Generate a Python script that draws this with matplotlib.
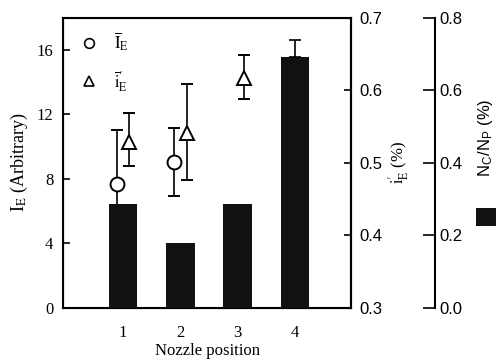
import matplotlib
matplotlib.use("Agg")
import matplotlib.pyplot as plt
from matplotlib.lines import Line2D

plt.rcParams["font.family"] = ["Liberation Serif", "DejaVu Serif"]
plt.rcParams["mathtext.fontset"] = "stix"

# nozzle positions
positions = [1, 2, 3, 4]

# mean I_E (arbitrary), left axis -- only positions 1 and 2 visible
ie_pos = [1, 2]
ie_mean = [7.7, 9.05]
ie_err = [3.3, 2.1]

# mean i'_E (%), right axis
ie2_pos = [1, 2, 3]
ie2_mean = [0.529, 0.541, 0.617]
ie2_err_low = [0.033, 0.065, 0.029]
ie2_err_high = [0.040, 0.068, 0.032]

# N_C/N_P (%), bars on the outer axis
nc_np = [0.287, 0.179, 0.287, 0.691]
nc_np_err = [0.0, 0.0, 0.0, 0.047]

xticks = [1, 2, 3, 4]

fig = plt.figure(figsize=(4.96, 3.6), dpi=100)
ax = fig.add_axes([63 / 496, 52 / 360, 288 / 496, 290.5 / 360])
ax2 = ax.twinx()
ax3 = ax.twinx()

lw = 1.5
off = 0.11

# circles, I_E
ax.errorbar([p - off for p in ie_pos], ie_mean, yerr=ie_err, fmt="o",
            ms=10, mfc="white", mec="black", mew=1.4, color="black",
            elinewidth=1.2, capsize=4, capthick=1.2)

# triangles, i'_E
ax2.errorbar([p + off for p in ie2_pos], ie2_mean,
             yerr=[ie2_err_low, ie2_err_high], fmt="^",
             ms=10, mfc="white", mec="black", mew=1.4, color="black",
             elinewidth=1.2, capsize=4, capthick=1.2)

# bars, N_C/N_P
bars = ax3.bar(positions, nc_np, width=0.5, color="#111111", zorder=1)
ax3.errorbar(positions[3:], nc_np[3:], yerr=[[0], nc_np_err[3:]], fmt="none",
             ecolor="black", elinewidth=1.2, capsize=4, capthick=1.2)

ax.set_xlim(-0.05, 4.98)
ax.set_ylim(0, 18)
ax2.set_ylim(0.3, 0.7)
ax3.set_ylim(0, 0.8)

ax.set_xticks(xticks)
ax.set_yticks([0, 4, 8, 12, 16])
ax2.set_yticks([0.3, 0.4, 0.5, 0.6, 0.7])
ax3.set_yticks([0.0, 0.2, 0.4, 0.6, 0.8])

for s in ax.spines.values():
    s.set_linewidth(lw)
ax2.spines["right"].set_linewidth(lw)
for name in ["top", "bottom", "left"]:
    ax3.spines[name].set_visible(False)
ax3.spines["right"].set_position(("axes", 372 / 288))
ax3.spines["right"].set_linewidth(lw)

ax.tick_params(axis="y", direction="in", length=5, width=1.2, pad=7, labelsize=12)
ax.tick_params(axis="x", direction="in", length=0, pad=12, labelsize=12)
ax2.tick_params(axis="y", direction="in", length=5, width=1.2, pad=6, labelsize=12)
ax3.tick_params(axis="y", direction="in", length=9, width=1.2, pad=3, labelsize=12)
for lab in ax2.get_yticklabels() + ax3.get_yticklabels():
    lab.set_family(["Liberation Sans", "DejaVu Sans"])

ax.set_xlabel("Nozzle position", fontsize=12, labelpad=2)
ax.set_ylabel(r"I$_\mathrm{E}$ (Arbitrary)", fontsize=13, labelpad=5)
ax2.set_ylabel(r"$\mathrm{i}_\mathrm{E}^{\prime}$ (%)", fontsize=12, labelpad=3)
ax3.set_ylabel(r"N$_\mathregular{C}$/N$_\mathregular{P}$ (%)", fontsize=12,
               family=["Liberation Sans", "DejaVu Sans"])
ax3.yaxis.set_label_coords(1.435, 0.586)

# legend for markers
handles = [
    Line2D([], [], ls="none", marker="o", ms=7, mfc="white", mec="black", mew=1.2),
    Line2D([], [], ls="none", marker="^", ms=7, mfc="white", mec="black", mew=1.2),
]
labels = [r"$\overline{\mathrm{I}}_\mathrm{E}$",
          r"$\overline{\mathrm{i}}_\mathrm{E}^{\prime}$"]
ax.legend(handles, labels, loc="upper left", bbox_to_anchor=(0.06, 0.955),
          frameon=False, fontsize=12, handlelength=1.0, handletextpad=1.0,
          labelspacing=0.95, borderpad=0, borderaxespad=0)

# cut-off legend key for the bars at the right edge
fig.legend([bars], [""], loc="upper left", bbox_to_anchor=(476 / 496, 1 - 208 / 360),
           frameon=False, fontsize=11, handlelength=1.8, handleheight=1.45,
           handletextpad=0, borderpad=0, borderaxespad=0)

plt.savefig("out.png", dpi=100)
